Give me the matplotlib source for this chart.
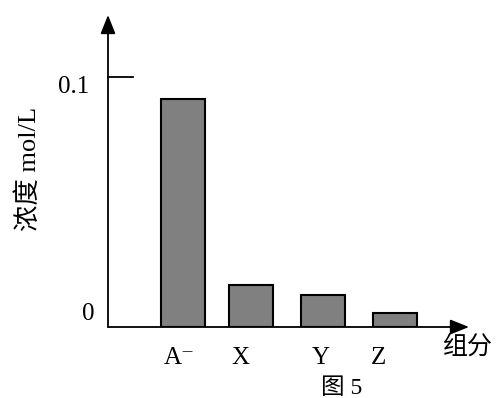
import matplotlib.pyplot as plt

plt.rcParams['font.family'] = ['Liberation Serif', 'DejaVu Serif', 'Noto Sans CJK SC']

# data
components = ['A⁻', 'X', 'Y', 'Z']
concentration = [0.0912, 0.0169, 0.0129, 0.0057]
yticks = [0, 0.1]
ytick_labels = ['0', '0.1']

# layout (bar centres and label centres in category units)
bar_pos = [0, 0.951, 1.951, 2.951]
label_pos = [-0.05, 0.80, 1.92, 2.71]

fig = plt.figure(figsize=(4.99, 3.98), dpi=100)
ax = fig.add_axes([108 / 499, (398 - 327) / 398, 361 / 499, 312 / 398])

ax.bar(bar_pos, concentration, width=0.611, color='#808080',
       edgecolor='black', linewidth=1.5)

ax.set_xlim(-1.042, 3.972)
ax.set_ylim(0, 0.1248)

for s in ax.spines.values():
    s.set_visible(False)

# axes with arrows
arrow = dict(arrowstyle='-|>,head_length=0.95,head_width=0.38', color='black',
             lw=1.3, shrinkA=0, shrinkB=0, mutation_scale=12)
ax.annotate('', xy=(1, 0), xytext=(0, 0), xycoords='axes fraction',
            textcoords='axes fraction', arrowprops=arrow, annotation_clip=False)
ax.annotate('', xy=(0, 1), xytext=(0, 0), xycoords='axes fraction',
            textcoords='axes fraction', arrowprops=arrow, annotation_clip=False)

ax.set_xticks([])
ax.set_yticks([])
# 0.1 tick mark
ax.plot([ax.get_xlim()[0], ax.get_xlim()[0] + 25 / 72], [yticks[1], yticks[1]],
        color='black', lw=1.3, clip_on=False)

# y tick labels
x_off = [-9.5, -13.5]
y_off = [9.5, -7.5]
for v, lab, dx, dy in zip(yticks, ytick_labels, x_off, y_off):
    ax.annotate(lab, xy=(0, v), xycoords=('axes fraction', 'data'),
                xytext=(dx, dy), textcoords='offset points',
                ha='right', va='center', fontsize=18)

# x labels
for x, lab in zip(label_pos, components):
    ax.text(x, -0.0125, lab, ha='center', va='center', fontsize=18)

fig.text(443 / 499, 1 - 347 / 398, '组分', ha='left', va='center', fontsize=18)
fig.text(342 / 499, 1 - 389 / 398, '图 5', ha='center', va='center', fontsize=17)
fig.text(28 / 499, 1 - 169 / 398, '浓度 mol/L', rotation=90,
         ha='center', va='center', fontsize=19)

fig.savefig('out.png', dpi=100)
